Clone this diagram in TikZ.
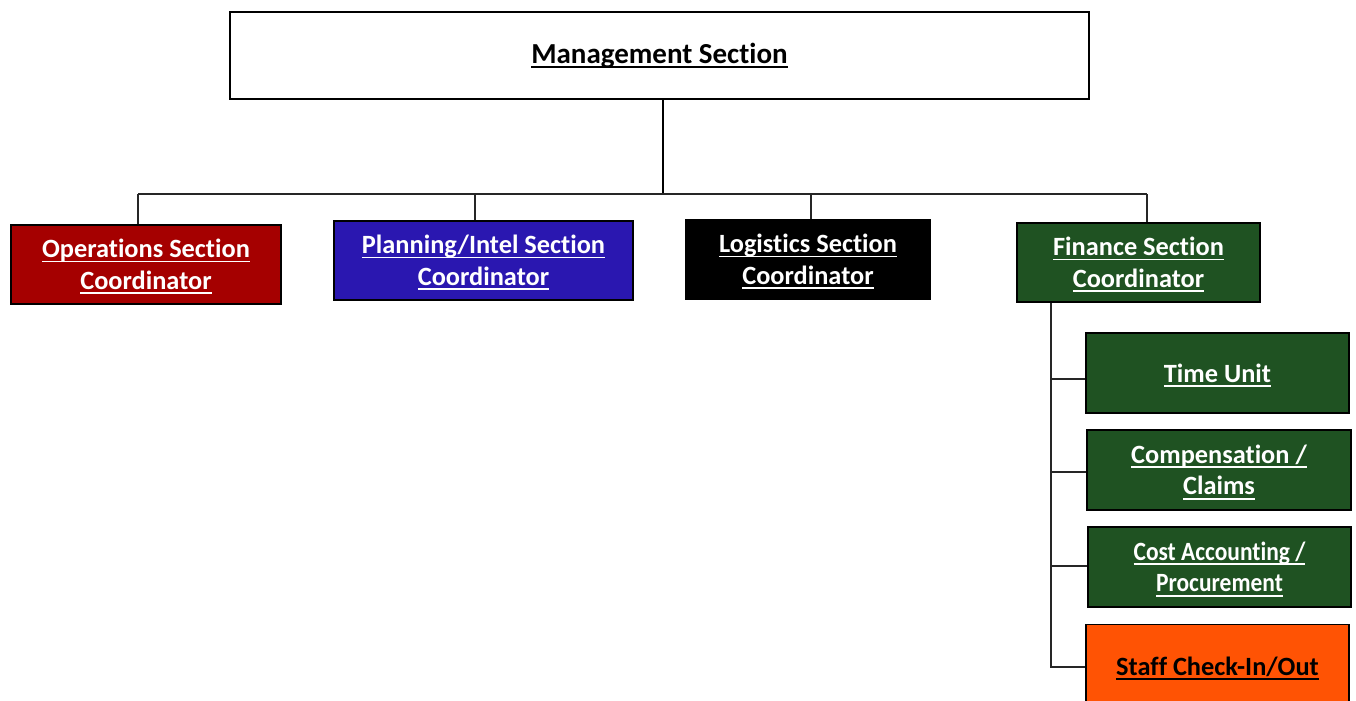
\documentclass[tikz,border=0pt]{standalone}
\usepackage{fontspec}
\setmainfont[Ligatures=NoCommon]{Carlito}
\newfontfamily\condfont[FakeStretch=0.89,Ligatures=NoCommon]{Carlito}
\usepackage{tikz}
\definecolor{opsred}{HTML}{A50000}
\definecolor{planblue}{HTML}{2A17B0}
\definecolor{fingreen}{HTML}{1F5222}
\definecolor{staffor}{HTML}{FF5304}
\newcommand\uln[1]{\leavevmode\setbox0=\hbox{#1}\rlap{\copy0}\smash{\raisebox{-2.6pt}{\rule{\wd0}{1pt}}}}

\begin{document}
\begin{tikzpicture}[x=0.02cm, y=-0.02cm,
		box/.style={draw=black, line width=0.9pt, align=center, inner sep=0pt,
			font=\bfseries\fontsize{15}{18}\selectfont, text=white},
		link/.style={line width=0.6pt, black!85}]
			\useasboundingbox (0,0) rectangle (1356,700);

			% top box
			\node[box, text=black, fill=white, minimum width=17.18cm, minimum height=1.74cm,
				font=\bfseries\fontsize{16.5}{20}\selectfont] (mgmt) at (659.5,55.5) {\uln{Management Section}};

			% section coordinators
			\node[box, fill=opsred, minimum width=5.4cm, minimum height=1.58cm] (ops) at (146,264.5) {\uln{Operations Section}\\\uln{Coordinator}};
			\node[box, fill=planblue, minimum width=5.98cm, minimum height=1.58cm] (plan) at (483.5,260.5) {\uln{Planning/Intel Section}\\\uln{Coordinator}};
			\node[box, fill=black, minimum width=4.88cm, minimum height=1.58cm] (log) at (808,259.5) {\uln{Logistics Section}\\\uln{Coordinator}};
			\node[box, fill=fingreen, minimum width=4.86cm, minimum height=1.58cm] (fin) at (1138.5,262.5) {\uln{Finance Section}\\\uln{Coordinator}};

			% finance units
			\node[box, fill=fingreen, minimum width=5.26cm, minimum height=1.6cm] (time) at (1217.5,373) {\uln{Time Unit}};
			\node[box, fill=fingreen, minimum width=5.28cm, minimum height=1.6cm] (comp) at (1219,470) {\uln{Compensation /}\\\uln{Claims}};
			\node[box, fill=fingreen, minimum width=5.26cm, minimum height=1.6cm,
				font=\condfont\bfseries\fontsize{15}{18}\selectfont] (cost) at (1219.5,567) {\uln{Cost Accounting /}\\\uln{Procurement}};
			\node[box, fill=staffor, text=black, minimum width=5.26cm, minimum height=1.7cm] (staff) at (1217.5,667) {\uln{Staff Check-In/Out}};

			% connectors
			\coordinate (bar) at (663,194);
			\draw[line width=1.3pt] (mgmt.south -| bar) -- (bar);
			\draw[link] (138,194) -- (1147,194);
			\draw[link] (ops.north -| 138,0) -- (138,194);
			\draw[link] (plan.north -| 475,0) -- (475,194);
			\draw[link] (log.north -| 811,0) -- (811,194);
			\draw[link] (fin.north -| 1147,0) -- (1147,194);

			\coordinate (spine) at (1051,667);
			\draw[link] (fin.south -| spine) -- (spine) -- (staff.west |- spine);
			\draw[link] (1051,379) -- (time.west |- 0,379);
			\draw[link] (1051,472) -- (comp.west |- 0,472);
			\draw[link] (1051,566) -- (cost.west |- 0,566);
		\end{tikzpicture}
\end{document}
